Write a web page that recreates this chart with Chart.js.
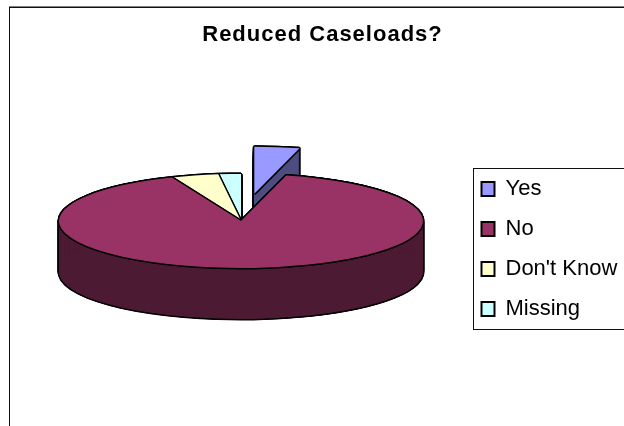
<!DOCTYPE html>
<html>
<head>
<meta charset="utf-8">
<title>Reduced Caseloads?</title>
<script src="https://cdn.jsdelivr.net/npm/chart.js@4"></script>
<style>
  html, body { margin: 0; padding: 0; background: #fff; }
  canvas { display: block; }
</style>
</head>
<body>
<canvas id="mychart" width="624" height="426"></canvas>
<script>
// pie data
const categories = ['Yes', 'No', "Don't Know", 'Missing'];
const shares = [4.0, 89.8, 4.2, 2.0];
const topColors = ['#9999ff', '#993366', '#ffffcc', '#ccffff'];
const wallColors = ['#4d4d80', '#4d1a33', '#80805e', '#668080'];

// 3d look of the pie
const tilt = 47 / 182;   // height of the ellipse against its width
const depth = 51;        // wall height
const pulledOut = 106;   // how far Yes sits out of the pie
const outline = 1.5;
const around = [[-1, 0], [1, 0], [0, -1], [0, 1], [-0.7, -0.7], [0.7, -0.7], [-0.7, 0.7], [0.7, 0.7]];

function drawArc(chart, arc, i, color, dx, dy) {
  const ctx = chart.ctx;
  const mid = (arc.startAngle + arc.endAngle) / 2;
  const pull = i === 0 ? pulledOut : 0;
  const saved = arc.options;
  arc.options = { ...saved, backgroundColor: color, borderWidth: 0 };
  ctx.save();
  ctx.translate(dx, dy);
  ctx.translate(arc.x, arc.y);
  ctx.scale(1, tilt);
  ctx.translate(-arc.x, -arc.y);
  ctx.translate(Math.cos(mid) * pull, Math.sin(mid) * pull);
  arc.draw(ctx);
  ctx.restore();
  arc.options = saved;
}

// black copies just around the slice make its outline, the stroke would get squashed by the tilt
function drawWall(chart, arc, i) {
  for (let d = 0; d <= depth; d++) {
    around.forEach(p => drawArc(chart, arc, i, '#000', p[0] * outline, d + p[1] * outline));
  }
  for (let d = 0; d <= depth; d++) {
    drawArc(chart, arc, i, wallColors[i], 0, d);
  }
}

function drawTop(chart, arc, i) {
  around.forEach(p => drawArc(chart, arc, i, '#000', p[0] * outline, p[1] * outline));
  drawArc(chart, arc, i, topColors[i], 0, 0);
}

const pie3d = {
  id: 'pie3d',
  afterLayout(chart) {
    // title is centred over the whole frame, legend goes in its own box
    const title = chart.titleBlock;
    title.left = 1;
    title.right = 644;
    if (!title.spaced) {
      const drawTitle = title.draw;
      title.draw = function (area) {
        chart.ctx.letterSpacing = '1px';
        drawTitle.call(title, area);
        chart.ctx.letterSpacing = '0px';
      };
      title.spaced = true;
    }
    const legend = chart.legend;
    legend.left = 463.5;
    legend.top = 160;
    legend.right = 640;
    legend.bottom = 345;
    legend.width = 176.5;
    legend.height = 185;
  },
  beforeDraw(chart) {
    const ctx = chart.ctx;
    ctx.save();
    // outer frame
    ctx.fillStyle = '#808080';
    ctx.fillRect(9, 6, 615, 1);
    ctx.fillStyle = '#111';
    ctx.fillRect(9, 7, 615, 1);
    ctx.fillRect(9, 7, 1, 419);
    // legend frame, open on the right
    ctx.fillRect(473, 168, 151, 1);
    ctx.fillRect(473, 168, 1, 162);
    ctx.fillRect(473, 329, 151, 1);
    ctx.restore();
  },
  beforeDatasetsDraw(chart) {
    const arcs = chart.getDatasetMeta(0).data;
    drawWall(chart, arcs[0], 0);
    drawTop(chart, arcs[0], 0);
    [3, 2, 1].forEach(i => drawWall(chart, arcs[i], i));
    [3, 2, 1].forEach(i => drawTop(chart, arcs[i], i));
    return false;
  }
};

const config = {
  type: 'pie',
  data: {
    labels: categories,
    datasets: [{
      data: shares,
      backgroundColor: topColors,
      borderColor: '#000',
      borderWidth: 2,
      radius: 182
    }]
  },
  options: {
    responsive: false,
    animation: false,
    layout: {
      padding: { left: 0, right: 142, top: 0, bottom: 33 }
    },
    plugins: {
      tooltip: { enabled: false },
      title: {
        display: true,
        text: 'Reduced Caseloads?',
        color: '#000',
        font: { family: '"Liberation Sans"', size: 22, weight: 'bold', lineHeight: 1 },
        padding: { top: 24, bottom: 3 }
      },
      legend: {
        position: 'chartArea',
        align: 'start',
        labels: {
          color: '#000',
          boxWidth: 13,
          boxHeight: 14,
          padding: 18,
          font: { family: '"Liberation Sans"', size: 22 }
        }
      }
    }
  },
  plugins: [pie3d]
};

const mychart = document.getElementById('mychart');
const chart = new Chart(mychart, config);
</script>
</body>
</html>
